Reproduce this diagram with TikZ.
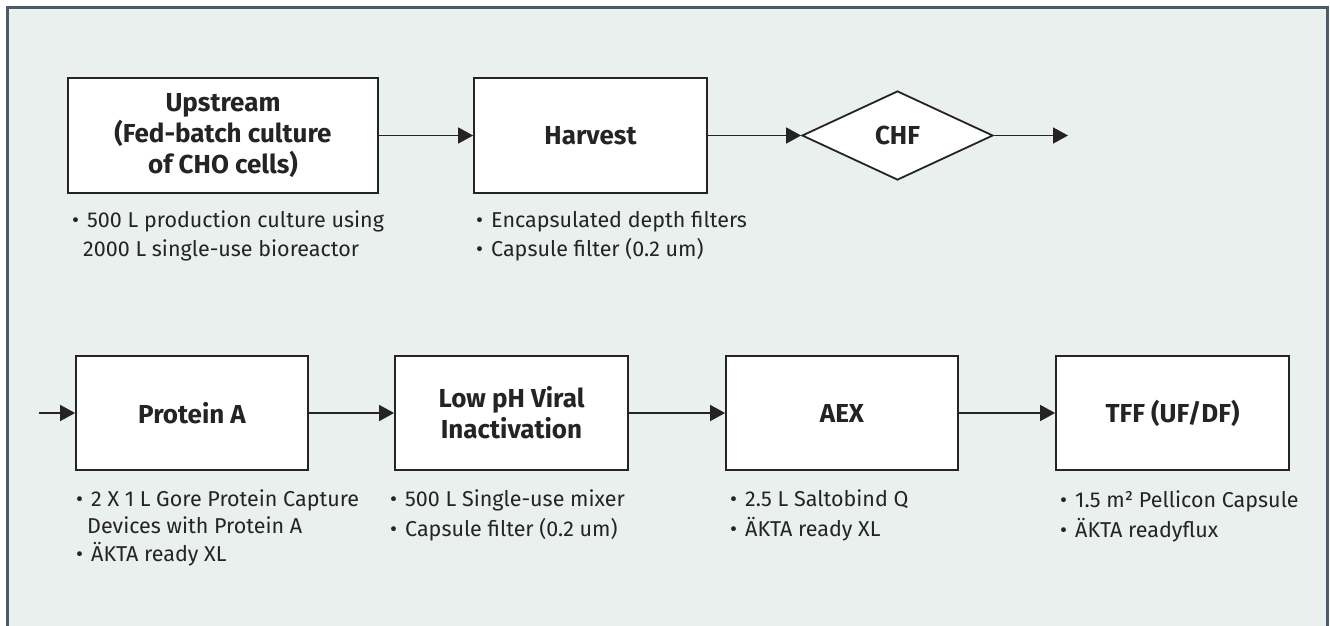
\documentclass[tikz,border=0pt]{standalone}
\usepackage{fontspec}
\setmainfont{Fira Sans}
\usetikzlibrary{arrows.meta,shapes.geometric}
\definecolor{bgc}{HTML}{EAF0EE}
\definecolor{framec}{HTML}{4B5A66}
\definecolor{ink}{HTML}{252325}
\newcommand\bitem[1]{\makebox[15pt][l]{•}#1}
\tikzset{
  stepbox/.style={draw=ink, fill=white, line width=1.8pt, inner sep=0pt,
    minimum height=115pt, align=center, text=ink,
    font=\fontsize{26}{31}\selectfont\bfseries},
  decbox/.style={stepbox, shape=diamond, minimum width=191pt, minimum height=89pt},
  arr/.style={draw=ink, line width=1.6pt, -{Triangle[length=15pt,width=16pt]}},
  bul/.style={anchor=base west, inner sep=0pt, text=ink,
    font=\fontsize{21.5}{29}\selectfont}
}
\begin{document}
\begin{tikzpicture}[x=1pt,y=-1pt]
\useasboundingbox (0,0) rectangle (1330,625);
\fill[white] (0,0) rectangle (1330,625);
\begin{scope}
\clip (0,0) rectangle (1330,625);
\draw[framec, line width=3pt, fill=bgc] (7.5,7.5) rectangle (1327,645);
\end{scope}

% top row
\node[stepbox, minimum width=310pt] (up) at (223,135.5) {Upstream\\(Fed-batch culture\\of CHO cells)};
\node[stepbox, minimum width=233pt] (hv) at (590.5,135.5) {Harvest};
\node[decbox] (chf) at (897.5,135.5) {CHF};
\coordinate (out) at (1068,135.5);
\draw[arr] (up.east) -- (hv.west);
\draw[arr] (hv.east) -- (chf.west);
\draw[arr] (chf.east) -- (out);

\node[bul] (upb1) at (72,227) {\bitem{500 L production culture using}};
\node[bul] (upb2) at (83,256) {2000 L single-use bioreactor};
\node[bul] (hvb1) at (476,227) {\bitem{Encapsulated depth filters}};
\node[bul] (hvb2) at (476,256) {\bitem{Capsule filter (0.2 um)}};

% bottom row
\coordinate (in) at (39,413);
\node[stepbox, minimum width=232pt, minimum height=114pt] (pa) at (192,413) {Protein A};
\node[stepbox, minimum width=233pt, minimum height=114pt] (lp) at (511.5,413) {Low pH Viral\\Inactivation};
\node[stepbox, minimum width=232pt, minimum height=114pt] (aex) at (842,413) {AEX};
\node[stepbox, minimum width=233pt, minimum height=114pt] (tff) at (1172.5,413) {TFF (UF/DF)};
\draw[arr] (in) -- (pa.west);
\draw[arr] (pa.east) -- (lp.west);
\draw[arr] (lp.east) -- (aex.west);
\draw[arr] (aex.east) -- (tff.west);

\node[bul] (pab1) at (76,506) {\bitem{2 X 1 L Gore Protein Capture}};
\node[bul] (pab2) at (87,533) {Devices with Protein A};
\node[bul] (pab3) at (76,561) {\bitem{ÄKTA ready XL}};
\node[bul] (lpb1) at (390,506) {\bitem{500 L Single-use mixer}};
\node[bul] (lpb2) at (390,536) {\bitem{Capsule filter (0.2 um)}};
\node[bul] (aexb1) at (730,506) {\bitem{2.5 L Saltobind Q}};
\node[bul] (aexb2) at (730,536) {\bitem{ÄKTA ready XL}};
\node[bul] (tffb1) at (1060,507) {\bitem{1.5 m² Pellicon Capsule}};
\node[bul] (tffb2) at (1060,537) {\bitem{ÄKTA readyflux}};
\end{tikzpicture}
\end{document}
